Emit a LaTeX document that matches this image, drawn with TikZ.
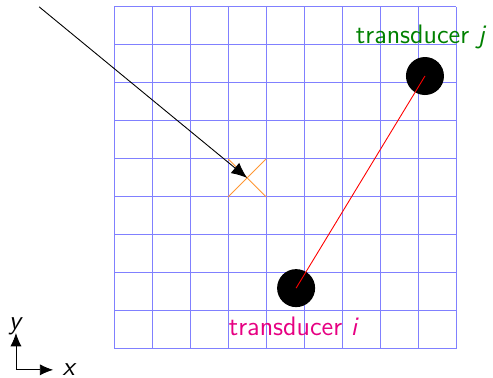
\documentclass[tikz,border=0pt]{standalone}
\usepackage{tikz}
\usetikzlibrary{arrows.meta}
\definecolor{gridBlue}{RGB}{128,128,255}
\definecolor{focusOrange}{RGB}{255,150,50}
\definecolor{tiPink}{RGB}{230,0,130}
\definecolor{tjGreen}{RGB}{0,128,0}
\tikzset{
  transducer/.style={circle,fill=black,inner sep=0pt,minimum size=0.6cm},
  axisarrow/.style={-{Latex[length=6pt,width=5pt]}}
}

\begin{document}
\begin{tikzpicture}[x=0.6cm,y=0.6cm,font=\sffamily\large]
\useasboundingbox (-3,-0.763) rectangle (9.97,9.18);
% grid
\foreach \k in {0,...,9} {
  \draw[gridBlue] (\k,0) -- (\k,9);
  \draw[gridBlue] (0,\k) -- (9,\k);
}
% focal point
\draw[focusOrange] (3,4) -- (4,5) (3,5) -- (4,4);
\coordinate (src) at (-1.97,9.0);
\coordinate (focus) at (3.5,4.5);
\draw[-{Latex[length=7pt,width=6pt]}] (src) -- (focus);
% transducers
\node[transducer] (ti) at (4.79,1.6) {};
\node[transducer] (tj) at (8.18,7.18) {};
\draw[red] (ti.center) -- (tj.center);
\node[tiPink] (tilabel) at (4.73,0.6) {transducer \textit{i}};
\node[tjGreen] (tjlabel) at (8.08,8.2) {transducer \textit{j}};
% axes
\coordinate (orig) at (-2.58,-0.55);
\coordinate (xend) at (-1.6,-0.55);
\coordinate (yend) at (-2.58,0.42);
\draw[axisarrow] (orig) -- (xend);
\draw[axisarrow] (orig) -- (yend);
\node[anchor=west,inner sep=0pt,xshift=4pt] (xlabel) at (xend) {\textit{x}};
\node[anchor=south,inner sep=0pt,yshift=-1pt] (ylabel) at (yend) {\textit{y}};
\end{tikzpicture}
\end{document}
